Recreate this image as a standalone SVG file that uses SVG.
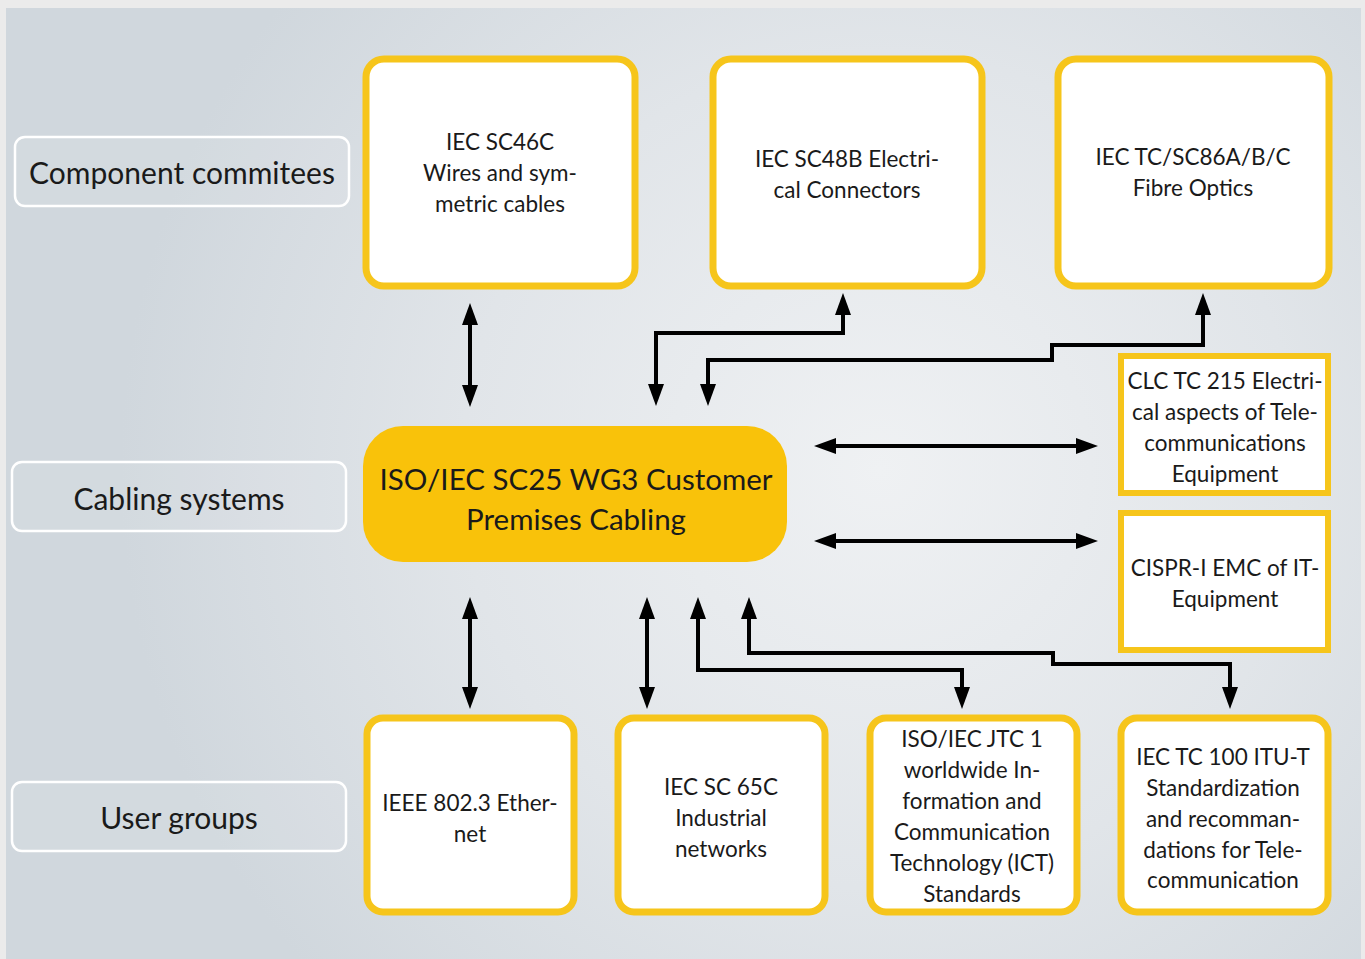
<svg xmlns="http://www.w3.org/2000/svg" width="1365" height="959" viewBox="0 0 1365 959">
<defs>
<radialGradient id="bg" gradientUnits="userSpaceOnUse" cx="880" cy="470" r="760" fx="880" fy="470">
<stop offset="0" stop-color="#eff1f3"/>
<stop offset="0.55" stop-color="#e1e5e9"/>
<stop offset="1" stop-color="#d0d7dd"/>
</radialGradient>
<marker id="ah" viewBox="0 0 22 16" refX="1" refY="8" markerWidth="22" markerHeight="16" markerUnits="userSpaceOnUse" orient="auto-start-reverse">
<path d="M0,0 L22,8 L0,16 z" fill="#000"/>
</marker>
<style>
.lbl{fill:#ffffff;fill-opacity:0.08;stroke:#ffffff;stroke-width:2.5}
.box{fill:#ffffff;stroke:#f6c51b;stroke-width:7}
.sq{fill:#ffffff;stroke:#f6c51b;stroke-width:6}
.core{fill:#f9c20a}
text{font-family:Lato,"Open Sans","Liberation Sans",sans-serif;fill:#1a1a1a;text-anchor:middle}
.t{font-size:22.5px}
.lt{font-size:30px}
.ct{font-size:29.5px}
.con path{fill:none;stroke:#000;stroke-width:4;marker-start:url(#ah);marker-end:url(#ah)}
</style>
</defs>
<rect x="0" y="0" width="1365" height="959" fill="#ebebeb"/>
<rect x="6" y="8" width="1355" height="951" fill="url(#bg)"/>

<g id="label-component">
<rect class="lbl" x="15" y="137" width="334" height="69" rx="10"/>
<text class="lt" x="182" y="184">Component commitees</text>
</g>
<g id="label-cabling">
<rect class="lbl" x="12" y="462" width="334" height="69" rx="10"/>
<text class="lt" x="179" y="510">Cabling systems</text>
</g>
<g id="label-user">
<rect class="lbl" x="12" y="782" width="334" height="69" rx="10"/>
<text class="lt" x="179" y="829">User groups</text>
</g>

<g id="sc46c">
<rect class="box" x="366" y="59" width="269" height="227" rx="18"/>
<text class="t" x="500" y="150">IEC SC46C</text>
<text class="t" x="500" y="181">Wires and sym-</text>
<text class="t" x="500" y="212">metric cables</text>
</g>
<g id="sc48b">
<rect class="box" x="713" y="59" width="269" height="227" rx="18"/>
<text class="t" x="847" y="167">IEC SC48B Electri-</text>
<text class="t" x="847" y="198">cal Connectors</text>
</g>
<g id="sc86">
<rect class="box" x="1058" y="59" width="271" height="227" rx="18"/>
<text class="t" x="1193" y="165">IEC TC/SC86A/B/C</text>
<text class="t" x="1193" y="196">Fibre Optics</text>
</g>

<g id="core">
<rect class="core" x="363" y="426" width="424" height="136" rx="40"/>
<text class="ct" x="576" y="490">ISO/IEC SC25 WG3 Customer</text>
<text class="ct" x="576" y="530">Premises Cabling</text>
</g>

<g id="clc">
<rect class="sq" x="1121" y="356" width="207" height="137"/>
<text class="t" x="1225" y="389">CLC TC 215 Electri-</text>
<text class="t" x="1225" y="420">cal aspects of Tele-</text>
<text class="t" x="1225" y="451">communications</text>
<text class="t" x="1225" y="482">Equipment</text>
</g>
<g id="cispr">
<rect class="sq" x="1121" y="513" width="207" height="137"/>
<text class="t" x="1225" y="576">CISPR-I EMC of IT-</text>
<text class="t" x="1225" y="607">Equipment</text>
</g>

<g id="ieee">
<rect class="box" x="367" y="718" width="207" height="194" rx="16"/>
<text class="t" x="470" y="811">IEEE 802.3 Ether-</text>
<text class="t" x="470" y="842">net</text>
</g>
<g id="sc65c">
<rect class="box" x="618" y="718" width="207" height="194" rx="16"/>
<text class="t" x="721" y="795">IEC SC 65C</text>
<text class="t" x="721" y="826">Industrial</text>
<text class="t" x="721" y="857">networks</text>
</g>
<g id="jtc1">
<rect class="box" x="870" y="718" width="207" height="194" rx="16"/>
<text class="t" x="972" y="747">ISO/IEC JTC 1</text>
<text class="t" x="972" y="778">worldwide In-</text>
<text class="t" x="972" y="809">formation and</text>
<text class="t" x="972" y="840">Communication</text>
<text class="t" x="972" y="871">Technology (ICT)</text>
<text class="t" x="972" y="902">Standards</text>
</g>
<g id="tc100">
<rect class="box" x="1121" y="718" width="207" height="194" rx="16"/>
<text class="t" x="1223" y="765">IEC TC 100 ITU-T</text>
<text class="t" x="1223" y="796">Standardization</text>
<text class="t" x="1223" y="827">and recomman-</text>
<text class="t" x="1223" y="858">dations for Tele-</text>
<text class="t" x="1223" y="888">communication</text>
</g>

<g id="connectors" class="con">
<path d="M470,324 V386"/>
<path d="M843,314 V333 H656 V385"/>
<path d="M1203,314 V345 H1052 V360 H708 V385"/>
<path d="M835,446 H1077"/>
<path d="M835,541 H1077"/>
<path d="M470,618 V688"/>
<path d="M647,618 V688"/>
<path d="M698,618 V670 H962 V688"/>
<path d="M749,618 V653 H1053 V664 H1230 V688"/>
</g>
</svg>
